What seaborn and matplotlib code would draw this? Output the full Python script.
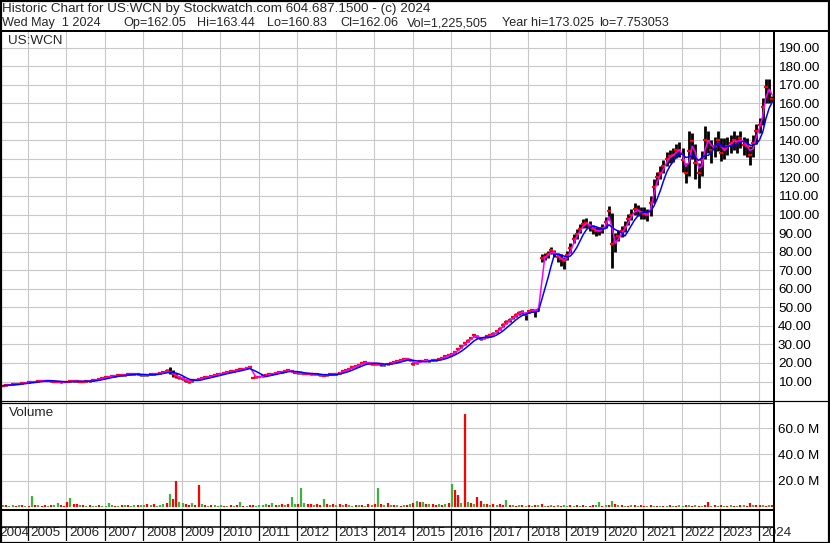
import numpy as np
import pandas as pd
import matplotlib
matplotlib.use("Agg")
import matplotlib.pyplot as plt
import seaborn as sns
from matplotlib.lines import Line2D
from matplotlib.patches import Rectangle

# monthly bars, May 2004 .. May 2024 (one row per year)
close = [
    7.8, 8.0, 8.2, 8.5, 8.7, 8.9, 9.1, 9.3,
    9.6, 9.8, 10.0, 10.2, 10.4, 10.5, 10.5, 10.3, 10.0, 9.8, 9.6, 9.8,
    10.0, 10.2, 10.3, 10.2, 10.0, 10.0, 10.1, 10.3, 10.6, 11.0, 11.4, 11.8,
    12.2, 12.6, 12.9, 13.1, 13.3, 13.4, 13.6, 13.8, 14.0, 14.1, 13.8, 13.5,
    13.3, 13.5, 13.8, 14.0, 14.3, 14.6, 15.0, 15.6, 15.2, 14.0, 12.8, 12.0,
    11.5, 10.4, 9.8, 10.6, 11.0, 11.3, 11.8, 12.2, 12.5, 12.8, 13.4, 14.0,
    14.3, 14.6, 15.0, 15.4, 15.7, 16.0, 16.5, 17.0, 17.5, 18.0, 12.0, 12.3,
    12.6, 13.0, 13.4, 13.8, 14.2, 14.6, 15.0, 15.2, 15.6, 16.0, 15.4, 14.8,
    14.6, 14.4, 14.3, 14.2, 14.0, 14.1, 13.8, 13.4, 13.2, 13.4, 13.8, 14.1,
    14.1, 14.8, 15.5, 16.2, 16.8, 17.6, 18.4, 19.1, 19.8, 20.4, 20.0, 19.6,
    19.6, 19.4, 19.2, 19.1, 19.5, 20.0, 20.5, 20.9, 21.4, 22.0, 22.2, 21.8,
    19.5, 20.2, 20.8, 21.3, 21.4, 21.2, 21.4, 21.5, 22.0, 22.8, 23.6, 24.3,
    25.0, 26.0, 27.5, 29.0, 30.5, 32.0, 33.5, 34.8, 34.0, 33.0, 33.5, 34.3,
    34.8, 35.8, 37.1, 38.5, 40.5, 42.0, 43.1, 44.5, 46.0, 47.0, 47.5, 46.0,
    47.8, 48.3, 48.0, 48.8, 76.5, 77.3, 78.5, 80.7, 79.0, 77.3, 76.0, 75.0,
    78.0, 82.0, 87.0, 89.5, 92.4, 95.0, 95.3, 93.9, 92.0, 91.0, 91.2, 92.5,
    95.7, 102.0, 84.0, 85.0, 88.5, 91.0, 93.5, 97.5, 100.0, 102.9, 102.0, 101.0,
    100.5, 99.5, 106.0, 115.0, 120.0, 122.5, 126.0, 130.0, 131.4, 132.3, 134.5, 135.0,
    129.5, 122.3, 134.0, 139.5, 127.7, 122.3, 129.5, 140.4, 139.5, 135.0, 137.0, 140.4,
    133.2, 135.9, 137.0, 138.6, 140.4, 138.6, 141.3, 137.7, 136.8, 132.3, 138.6, 145.0,
    148.5, 158.0, 168.5, 166.5, 162.1,
]
high = [
    8.1, 8.3, 8.5, 8.8, 9.0, 9.2, 9.4, 9.6,
    9.9, 10.1, 10.3, 10.5, 10.7, 10.9, 10.9, 10.7, 10.4, 10.1, 9.9, 10.1,
    10.3, 10.5, 10.7, 10.6, 10.4, 10.3, 10.4, 10.7, 11.0, 11.4, 11.8, 12.2,
    12.6, 13.0, 13.3, 13.5, 13.7, 13.8, 14.0, 14.3, 14.5, 14.6, 14.2, 13.9,
    13.7, 13.9, 14.3, 14.5, 14.7, 15.1, 15.6, 16.5, 18.0, 16.0, 14.5, 13.0,
    12.2, 11.5, 10.6, 11.2, 11.5, 11.8, 12.2, 12.6, 12.9, 13.2, 13.8, 14.4,
    14.7, 15.0, 15.4, 15.8, 16.1, 16.4, 16.9, 17.4, 17.9, 18.5, 12.5, 12.7,
    13.0, 13.4, 13.8, 14.2, 14.6, 15.0, 15.4, 15.8, 16.2, 16.8, 15.9, 15.2,
    15.0, 14.8, 14.7, 14.6, 14.4, 14.5, 14.2, 13.8, 13.6, 13.8, 14.2, 14.5,
    14.6, 15.3, 16.0, 16.7, 17.3, 18.1, 18.9, 19.6, 20.3, 20.9, 20.5, 20.1,
    20.1, 19.9, 19.7, 19.6, 20.0, 20.5, 21.0, 21.4, 21.9, 22.5, 22.8, 22.3,
    20.5, 20.7, 21.3, 21.8, 21.9, 21.7, 21.9, 22.0, 22.5, 23.3, 24.1, 24.8,
    25.6, 26.7, 28.2, 29.7, 31.2, 32.7, 34.2, 35.5, 34.9, 33.8, 34.2, 35.0,
    35.6, 36.6, 37.9, 39.4, 41.4, 42.9, 44.1, 45.5, 47.0, 48.0, 48.6, 47.2,
    48.8, 49.3, 49.0, 49.8, 78.5, 79.3, 80.5, 82.5, 81.0, 79.5, 78.5, 77.0,
    80.5, 84.5, 89.5, 92.0, 95.0, 97.5, 98.0, 96.5, 94.5, 93.5, 93.5, 95.0,
    98.5, 104.7, 101.0, 90.0, 91.5, 94.0, 96.5, 100.5, 103.0, 106.0, 105.0, 104.0,
    104.0, 103.0, 110.0, 119.0, 123.0, 126.0, 129.5, 133.5, 135.0, 136.0, 138.0, 139.0,
    136.0, 128.0, 145.0, 144.0, 138.0, 128.0, 134.0, 147.6, 145.0, 140.0, 142.0, 145.0,
    141.0, 141.0, 142.0, 143.0, 145.0, 143.0, 145.0, 142.0, 141.0, 137.0, 143.0, 149.0,
    152.0, 163.0, 172.8, 173.0, 164.0,
]
low = [
    7.6, 7.8, 7.9, 8.2, 8.4, 8.6, 8.8, 9.0,
    9.3, 9.5, 9.7, 9.9, 10.1, 10.2, 10.2, 10.0, 9.7, 9.5, 9.3, 9.5,
    9.7, 9.9, 10.0, 9.9, 9.7, 9.7, 9.8, 10.0, 10.3, 10.7, 11.0, 11.4,
    11.8, 12.2, 12.5, 12.7, 12.9, 13.0, 13.2, 13.3, 13.6, 13.7, 13.3, 13.0,
    12.9, 13.0, 13.3, 13.6, 13.9, 14.1, 14.5, 15.0, 14.0, 12.5, 11.8, 11.2,
    10.8, 9.7, 9.3, 10.0, 10.6, 10.9, 11.4, 11.8, 12.1, 12.4, 13.0, 13.6,
    13.9, 14.2, 14.6, 15.0, 15.3, 15.6, 16.1, 16.6, 17.1, 17.6, 11.7, 11.9,
    12.2, 12.6, 13.0, 13.4, 13.8, 14.2, 14.6, 14.6, 15.0, 15.5, 14.9, 14.4,
    14.2, 14.0, 13.9, 13.8, 13.6, 13.7, 13.4, 13.0, 12.8, 13.0, 13.4, 13.7,
    13.7, 14.3, 15.0, 15.7, 16.3, 17.1, 17.9, 18.6, 19.3, 19.9, 19.5, 19.1,
    19.1, 18.9, 18.6, 18.5, 19.0, 19.5, 20.0, 20.4, 20.9, 21.5, 21.7, 21.3,
    18.9, 19.6, 20.3, 20.8, 20.9, 20.7, 20.9, 20.9, 21.5, 22.3, 23.1, 23.8,
    24.4, 25.3, 26.8, 28.3, 29.8, 31.3, 32.8, 34.0, 33.2, 32.2, 32.7, 33.6,
    34.0, 35.0, 36.3, 37.6, 39.6, 41.1, 42.1, 43.5, 45.0, 46.0, 46.5, 43.4,
    46.8, 47.3, 45.0, 47.8, 74.5, 75.3, 76.5, 78.5, 77.0, 74.5, 72.5, 70.5,
    75.5, 79.5, 84.5, 87.0, 90.0, 92.5, 92.8, 91.0, 89.5, 88.5, 89.0, 90.0,
    92.5, 97.0, 71.4, 80.0, 85.5, 88.0, 90.5, 94.5, 97.0, 99.5, 99.0, 97.5,
    97.5, 96.5, 99.0, 106.0, 116.0, 119.0, 122.5, 126.0, 127.5, 128.5, 130.5, 131.0,
    123.0, 117.0, 121.0, 130.0, 119.0, 114.2, 121.0, 130.0, 133.0, 128.0, 131.0, 134.0,
    129.0, 130.0, 132.0, 133.0, 135.0, 133.0, 136.0, 132.0, 131.0, 126.8, 131.0, 138.0,
    144.0, 148.0, 160.0, 160.0, 160.8,
]
# volume in millions of shares
volume = [
    1.2, 1.5, 1.0, 1.3, 1.1, 1.8, 1.2, 1.0,
    1.0, 8.5, 1.2, 1.5, 1.0, 1.3, 1.1, 1.8, 1.2, 3.0, 1.5, 1.0,
    4.0, 7.0, 2.5, 2.0, 1.5, 1.2, 1.0, 1.3, 1.1, 0.8, 1.6, 1.0,
    1.0, 2.8, 1.2, 1.0, 0.9, 1.5, 1.2, 1.8, 1.0, 1.3, 1.7, 1.2,
    1.4, 2.0, 1.5, 2.5, 1.0, 1.8, 2.3, 3.0, 10.0, 6.0, 20.0, 3.5,
    2.8, 2.0, 1.5, 3.0, 1.2, 17.0, 2.5, 1.5, 1.0, 1.3, 1.2, 1.0,
    1.2, 1.0, 0.8, 1.5, 1.0, 1.2, 4.0, 1.0, 0.8, 1.3, 1.2, 1.0,
    1.5, 1.2, 2.5, 1.5, 2.8, 1.8, 1.5, 2.0, 1.5, 2.0, 7.7, 2.5,
    2.5, 14.6, 3.0, 2.0, 2.5, 1.8, 2.0, 1.5, 6.0, 2.0, 1.5, 2.0,
    1.5, 2.0, 1.2, 2.5, 1.5, 1.0, 1.5, 1.2, 1.8, 1.0, 2.0, 1.5,
    2.5, 14.6, 2.0, 1.5, 2.8, 1.5, 1.2, 1.5, 1.0, 1.8, 1.5, 2.5,
    3.0, 4.6, 3.5, 4.0, 2.5, 2.0, 2.5, 1.5, 2.0, 1.5, 2.5, 3.0,
    17.7, 13.0, 9.0, 3.0, 70.7, 4.0, 3.0, 2.5, 7.7, 4.5, 2.5, 2.0,
    1.5, 2.0, 1.8, 2.5, 1.5, 5.4, 1.5, 1.2, 1.0, 1.5, 1.2, 1.0,
    1.2, 1.0, 1.5, 1.2, 2.0, 1.0, 0.8, 1.2, 1.0, 1.5, 1.0, 1.3,
    1.0, 1.2, 0.8, 1.5, 1.0, 1.2, 1.0, 0.9, 1.5, 1.2, 4.0, 1.0,
    1.2, 1.5, 4.6, 2.0, 1.5, 1.2, 1.0, 0.8, 1.2, 1.5, 1.0, 1.2,
    1.0, 0.8, 1.5, 1.0, 0.8, 0.7, 0.8, 1.0, 1.2, 0.8, 1.0, 1.2,
    1.0, 1.2, 1.5, 1.0, 1.2, 1.0, 0.8, 1.2, 4.0, 1.0, 1.5, 1.0,
    1.2, 0.8, 1.0, 1.2, 0.8, 1.0, 1.2, 1.5, 1.0, 3.0, 1.5, 1.2,
    1.5, 1.2, 1.0, 1.5, 1.2,
]
# g = up month, r = down month
vol_dir = (
    "grggrgrg"
    "rgrgrrgrggrr" "rgrrgrgrggrg" "gggrgrgrggrg" "grgrgggrgrrg" "grrgrrgrgrgg"
    "grgrgrgrgrrg" "gggrgrgrgrgg" "rggrrgrrgrgr" "grgrggrgrgrg" "rgrgrgrgrgrg"
    "rgrgrgrrgrgr" "grrgrgrgrrgr" "grgrrgrgrgrg" "rgrgrgrgrgrg" "grgrgrgrrggr"
    "grgrgrgrgrgr" "rgrgrgrgrgrg" "grgrgrgrrgrg" "rgrgrgrgrrgr"
    "rgrgr"
)
years = list(range(2004, 2025))
price_ticks = list(range(10, 200, 10))
vol_ticks = [20, 40, 60]

header1 = "Historic Chart for US:WCN by Stockwatch.com 604.687.1500 - (c) 2024"
header2 = [("Wed May  1 2024", 2), ("Op=162.05", 123), ("Hi=163.44", 197),
           ("Lo=160.83", 267), ("Cl=162.06", 340), ("Vol=1,225,505", 407),
           ("Year hi=173.025", 502), ("lo=7.753053", 599)]

W, H = 830, 543
sns.set_style("white")
plt.rcParams["font.family"] = ["Liberation Sans", "DejaVu Sans"]
FS = 9.7
FS_HEAD2 = 9.1

n = len(close)
t = 2004 + (4 + np.arange(n)) / 12 + 0.02
df = pd.DataFrame({"t": t, "close": close, "high": high, "low": low,
                   "vol": volume, "dir": list(vol_dir)})
df["ma_fast"] = df["close"].rolling(2, min_periods=1).mean()
df["ma_slow"] = df["close"].rolling(5, min_periods=1).mean()

fig = plt.figure(figsize=(W / 100, H / 100), dpi=100)


def px_axes(x0, y0, x1, y1):
    return fig.add_axes([x0 / W, 1 - y1 / H, (x1 - x0) / W, (y1 - y0) / H])


def px_line(xs, ys, lw):
    fig.add_artist(Line2D([x / W for x in xs], [1 - y / H for y in ys],
                          transform=fig.transFigure, color="black", lw=lw * 0.72))


xlim = (2004.30, 2024.37)
grid_kw = dict(color="#c8c8c8", lw=0.8)

ax_p = px_axes(1, 31, 773, 401)
ax_v = px_axes(1, 403, 773, 509)
ax_x = px_axes(1, 509, 773, 541)

for ax in (ax_p, ax_v, ax_x):
    ax.set_xlim(*xlim)
    for s in ax.spines.values():
        s.set_visible(False)

# price panel
ax_p.set_ylim(-0.5, 198.9)
ax_p.set_xticks(years[1:])
ax_p.set_yticks(price_ticks)
ax_p.grid(True, **grid_kw)
ax_p.yaxis.tick_right()
ax_p.tick_params(axis="x", length=0, labelbottom=False)
ax_p.tick_params(axis="y", length=0, pad=3.6, labelsize=FS, labelcolor="black")
ax_p.set_yticklabels([f"{v:.2f}" for v in price_ticks])

ax_p.vlines(df["t"], df["low"], df["high"], color="black", lw=2.0)
ax_p.plot(df["t"], df["close"], ls="none", marker="_", ms=3.5, mew=1.6, color="red")
sns.lineplot(data=df, x="t", y="ma_fast", ax=ax_p, color="#ff00ff", lw=1.1, estimator=None)
sns.lineplot(data=df, x="t", y="ma_slow", ax=ax_p, color="#0000ff", lw=1.1, estimator=None)
ax_p.set_xlabel("")
ax_p.set_ylabel("")
ax_p.text(7 / 772, 1 - 10.5 / 370, "US:WCN", transform=ax_p.transAxes,
          fontsize=FS, va="center", ha="left")

# volume panel
ax_v.set_ylim(-1.5, 79.2)
ax_v.set_xticks(years[1:])
ax_v.set_yticks(vol_ticks)
ax_v.grid(True, **grid_kw)
ax_v.yaxis.tick_right()
ax_v.tick_params(axis="x", length=0, labelbottom=False)
ax_v.tick_params(axis="y", length=0, pad=3.6, labelsize=FS, labelcolor="black")
ax_v.set_yticklabels([f"{v:.1f} M" for v in vol_ticks])
vcol = df["dir"].map({"g": "#3cb43c", "r": "#ff0000"})
ax_v.vlines(df["t"], 0, df["vol"], colors=vcol, lw=1.6)
ax_v.text(8 / 772, 1 - 10 / 106, "Volume", transform=ax_v.transAxes,
          fontsize=FS, va="center", ha="left")

# date band
ax_x.set_ylim(0, 1)
ax_x.set_xticks([])
ax_x.set_yticks([])
ppy = 772 / (xlim[1] - xlim[0])
for y in years[1:]:
    ax_x.axvline(y, color="black", lw=0.9)
for y in years:
    xpos = y + 2.5 / ppy if y > 2004 else xlim[0] - 2 / ppy
    ax_x.text(xpos, 0.24, str(y), fontsize=FS, va="center", ha="left", clip_on=False)

# header
fig.text(2 / W, 1 - 9 / H, header1, fontsize=FS, va="center", ha="left")
for s, x in header2:
    fig.text(x / W, 1 - 23 / H, s, fontsize=FS_HEAD2, va="center", ha="left")

# frame lines
fig.add_artist(Rectangle((0.5 / W, 0.5 / H), (W - 1.5) / W, (H - 1.5) / H,
                         transform=fig.transFigure, fill=False, ec="black", lw=2.2 * 0.72))
px_line([0, W], [30.5, 30.5], 2)
px_line([773.5, 773.5], [31, H], 2)
px_line([0, W], [400.5, 400.5], 1.2)
px_line([0, 773], [403, 403], 1.2)
px_line([0, 773], [509.5, 509.5], 2)
px_line([0, 773], [526.5, 526.5], 1.5)

plt.savefig("out.png", dpi=100)
